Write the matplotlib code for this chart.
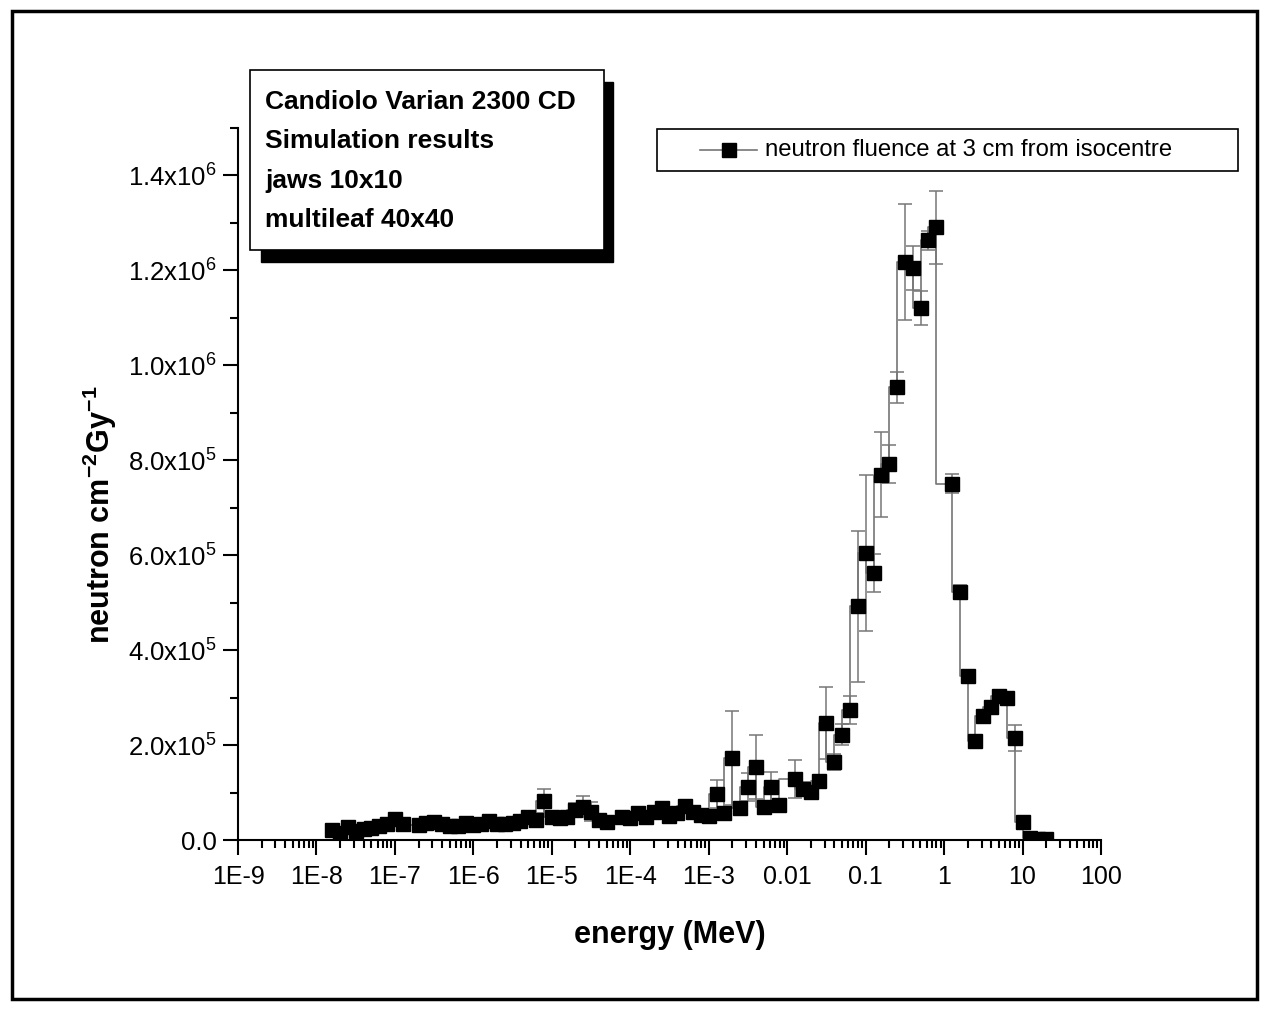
import numpy as np
import matplotlib.pyplot as plt
from matplotlib.patches import Rectangle
from matplotlib.lines import Line2D
from matplotlib.ticker import FuncFormatter, MultipleLocator, LogLocator, NullFormatter

# fonts: Arial-like
plt.rcParams['font.family'] = ['Liberation Sans', 'DejaVu Sans']
plt.rcParams['mathtext.fontset'] = 'custom'
plt.rcParams['mathtext.rm'] = 'Liberation Sans'
plt.rcParams['mathtext.it'] = 'Liberation Sans:italic'
plt.rcParams['mathtext.bf'] = 'Liberation Sans:bold'

# data (energy in MeV, fluence in neutron cm^-2 Gy^-1)
energy = [1.58e-8, 2.00e-8, 2.51e-8, 3.16e-8, 3.98e-8, 5.01e-8, 6.31e-8, 7.94e-8, 1.00e-7, 1.26e-7,
          2.00e-7, 2.51e-7, 3.16e-7, 3.98e-7, 5.01e-7, 6.31e-7, 7.94e-7, 1.00e-6, 1.26e-6, 1.58e-6,
          2.00e-6, 2.51e-6, 3.16e-6, 3.98e-6, 5.01e-6, 6.31e-6, 7.94e-6, 1.00e-5, 1.26e-5, 1.58e-5,
          2.00e-5, 2.51e-5, 3.16e-5, 3.98e-5, 5.01e-5,
          7.94e-5, 1.00e-4, 1.26e-4, 1.58e-4, 2.00e-4, 2.51e-4, 3.16e-4, 3.98e-4, 5.01e-4, 6.31e-4,
          7.94e-4, 1.00e-3, 1.26e-3, 1.58e-3, 2.00e-3, 2.51e-3, 3.16e-3, 3.98e-3, 5.01e-3, 6.31e-3,
          7.94e-3,
          1.26e-2, 1.58e-2, 2.00e-2, 2.51e-2, 3.16e-2, 3.98e-2, 5.01e-2, 6.31e-2, 7.94e-2, 0.100,
          0.126, 0.158, 0.200, 0.251, 0.316, 0.398, 0.501, 0.631, 0.794,
          1.26, 1.58, 2.00, 2.51, 3.16, 3.98, 5.01, 6.31, 7.94, 10.0, 12.6, 15.8, 20.0]

fluence = [22e3, 15e3, 27e3, 18e3, 23e3, 25e3, 30e3, 34e3, 44e3, 34e3,
           32e3, 36e3, 38e3, 33e3, 30e3, 30e3, 35e3, 32e3, 33e3, 40e3,
           33e3, 34e3, 36e3, 40e3, 48e3, 42e3, 82e3, 48e3, 47e3, 49e3,
           63e3, 70e3, 60e3, 42e3, 38e3,
           49e3, 47e3, 57e3, 49e3, 59e3, 68e3, 50e3, 57e3, 72e3, 59e3,
           52e3, 50e3, 97e3, 57e3, 173e3, 68e3, 112e3, 154e3, 70e3, 112e3,
           74e3,
           129e3, 108e3, 101e3, 124e3, 247e3, 165e3, 222e3, 274e3, 492e3, 605e3,
           563e3, 770e3, 793e3, 954e3, 1217e3, 1205e3, 1120e3, 1264e3, 1291e3,
           751e3, 523e3, 346e3, 209e3, 262e3, 281e3, 304e3, 300e3, 215e3, 38e3, 4e3, 3e3, 2e3]

fluence_err = [2e3, 2e3, 2e3, 2e3, 2e3, 2e3, 2e3, 3e3, 3e3, 3e3,
               3e3, 3e3, 3e3, 3e3, 3e3, 3e3, 3e3, 3e3, 3e3, 3e3,
               3e3, 3e3, 3e3, 4e3, 5e3, 4e3, 26e3, 5e3, 5e3, 5e3,
               15e3, 22e3, 20e3, 4e3, 4e3,
               5e3, 5e3, 6e3, 5e3, 6e3, 10e3, 5e3, 6e3, 10e3, 6e3,
               5e3, 5e3, 30e3, 6e3, 99e3, 7e3, 29e3, 68e3, 7e3, 31e3,
               7e3,
               40e3, 15e3, 10e3, 12e3, 76e3, 17e3, 22e3, 30e3, 160e3, 165e3,
               40e3, 90e3, 40e3, 33e3, 122e3, 47e3, 36e3, 20e3, 77e3,
               20e3, 15e3, 10e3, 8e3, 8e3, 8e3, 8e3, 8e3, 27e3, 4e3, 1e3, 1e3, 1e3]

xtick_vals = [1e-9, 1e-8, 1e-7, 1e-6, 1e-5, 1e-4, 1e-3, 1e-2, 1e-1, 1, 10, 100]
xtick_labels = ['1E-9', '1E-8', '1E-7', '1E-6', '1E-5', '1E-4', '1E-3', '0.01', '0.1', '1', '10', '100']

series_label = 'neutron fluence at 3 cm from isocentre'
box_lines = ['Candiolo Varian 2300 CD', 'Simulation results', 'jaws 10x10', 'multileaf 40x40']

W, H = 1266, 1010
fig = plt.figure(figsize=(W / 100, H / 100), dpi=100)


def fx(px):
    return px / W


def fy(py):
    return 1 - py / H


ax = fig.add_axes([fx(238), fy(840), fx(1101) - fx(238), fy(128) - fy(840)])

grey = '#767676'
ax.errorbar(energy, fluence, yerr=fluence_err, fmt='none', ecolor=grey,
            elinewidth=1.1, capsize=4.8, capthick=1.1, zorder=2)
ax.plot(energy, fluence, drawstyle='steps-pre', color=grey, lw=1.2,
        marker='s', ms=10.5, mfc='black', mec='black', zorder=3)

# axes
ax.set_xscale('log')
ax.set_xlim(1e-9, 100)
ax.set_xticks(xtick_vals)
ax.set_xticklabels(xtick_labels)
ax.xaxis.set_minor_locator(LogLocator(base=10, subs=range(2, 10), numticks=100))
ax.xaxis.set_minor_formatter(NullFormatter())

ax.set_ylim(0, 1.5e6)
ax.set_yticks(np.arange(0, 1.41e6, 2e5))
ax.yaxis.set_minor_locator(MultipleLocator(1e5))


def yfmt(v, pos):
    if v == 0:
        return '0.0'
    e = int(np.floor(np.log10(v) + 1e-9))
    return f'{v / 10**e:.1f}x10$^{{{e}}}$'


ax.yaxis.set_major_formatter(FuncFormatter(yfmt))

for s in ['top', 'right']:
    ax.spines[s].set_visible(False)
for s in ['left', 'bottom']:
    ax.spines[s].set_linewidth(1.5)

ax.tick_params(which='major', direction='out', length=11, width=1.5)
ax.tick_params(which='minor', direction='out', length=6, width=1.5)
ax.tick_params(axis='x', which='major', pad=7, labelsize=18)
ax.tick_params(axis='y', which='major', pad=4, labelsize=18.5)

ax.set_xlabel('energy (MeV)', fontsize=22, fontweight='bold')
ax.xaxis.set_label_coords(0.5, -(935 - 840) / 712)
ax.xaxis.label.set_va('center')
ax.set_ylabel(r'neutron cm$^{\mathbf{-2}}$Gy$^{\mathbf{-1}}$', fontsize=22, fontweight='bold')
ax.yaxis.set_label_coords((100 - 238) / 863, (840 - 515) / 712)
ax.yaxis.label.set_va('center')

# text box with drop shadow
fig.add_artist(Rectangle((fx(261), fy(262)), fx(613) - fx(261), fy(82) - fy(262),
                         transform=fig.transFigure, facecolor='black', edgecolor='black', zorder=5))
fig.add_artist(Rectangle((fx(250), fy(250)), fx(604) - fx(250), fy(70) - fy(250),
                         transform=fig.transFigure, facecolor='white', edgecolor='black', lw=1.2, zorder=6))
for line, py in zip(box_lines, [102, 141, 181, 220]):
    fig.text(fx(265), fy(py), line, fontsize=19, fontweight='bold', ha='left', va='center', zorder=7)

# legend box
fig.add_artist(Rectangle((fx(657), fy(171)), fx(1238) - fx(657), fy(129) - fy(171),
                         transform=fig.transFigure, facecolor='white', edgecolor='black', lw=1.2, zorder=5))
fig.add_artist(Line2D([fx(700), fx(757)], [fy(150), fy(150)], transform=fig.transFigure,
                      color=grey, lw=1.2, zorder=6))
fig.add_artist(Line2D([fx(729)], [fy(150)], transform=fig.transFigure, marker='s', ms=10,
                      mfc='black', mec='black', zorder=7))
fig.text(fx(765), fy(150), series_label, fontsize=17.2, ha='left', va='center', zorder=7)

# outer frame
fig.add_artist(Rectangle((fx(12), fy(999)), fx(1257) - fx(12), fy(11) - fy(999),
                         transform=fig.transFigure, fill=False, edgecolor='black', lw=2.5, zorder=10))

fig.savefig('out.png', dpi=100)
